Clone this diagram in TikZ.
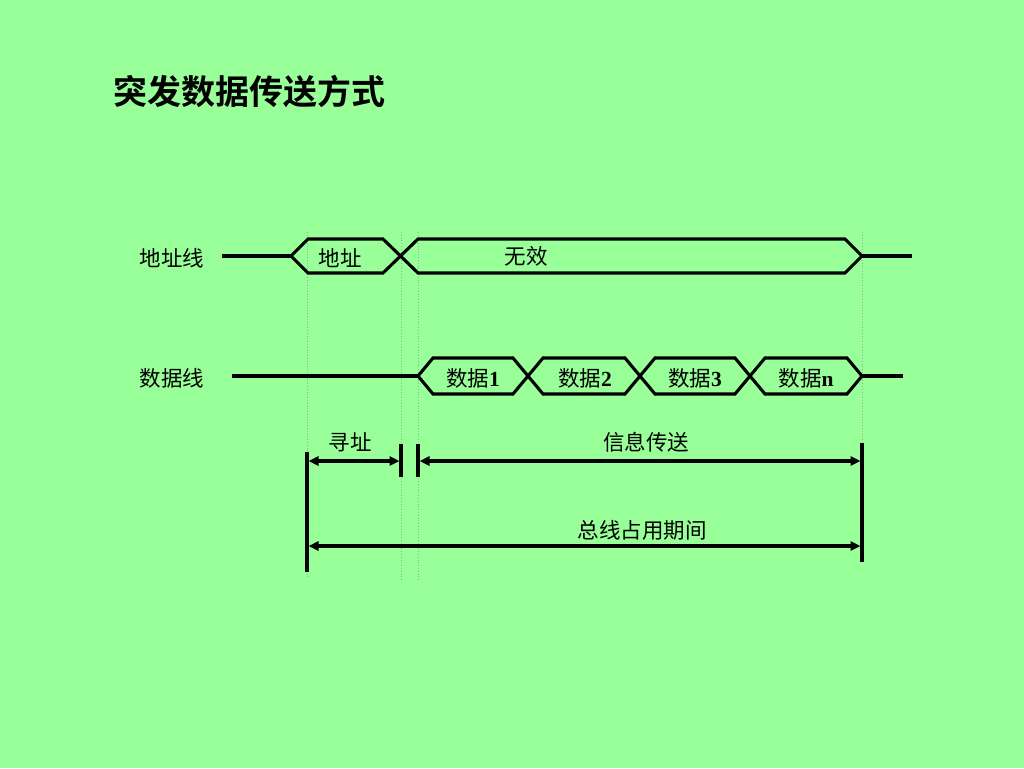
\documentclass[tikz,border=0pt]{standalone}
\usepackage{fontspec}
\setmainfont{Liberation Serif}
\newfontfamily\cjk{Noto Sans CJK SC}
\newfontfamily\cjkb{Noto Sans CJK SC Bold}
\usetikzlibrary{arrows.meta}
\definecolor{bg}{RGB}{153,255,153}
\definecolor{guide}{RGB}{140,180,140}
\newcommand{\dg}[1]{{\rmfamily\bfseries #1}}
\tikzset{
  wave/.style={line width=3.1pt, line join=miter, black},
  guideline/.style={guide, line width=0.8pt, dotted},
  lbl/.style={font=\cjk\fontsize{21.5}{21.5}\selectfont, inner sep=0pt},
  dlbl/.style={font=\cjk\fontsize{21.5}{21.5}\selectfont, inner sep=0pt},
  dim/.style={line width=3.2pt, {Triangle[length=10pt,width=9pt]}-{Triangle[length=10pt,width=9pt]}},
  bar/.style={line width=3.2pt},
}
\begin{document}
\begin{tikzpicture}[x=1pt,y=-1pt]
\fill[bg] (0,0) rectangle (1024,768);
\useasboundingbox (0,0) rectangle (1024,768);

% title
\node[font=\cjkb\fontsize{34}{34}\selectfont, inner sep=0pt] (title) at (249,91) {突发数据传送方式};

% guide lines
\coordinate (g1t) at (307,232); \coordinate (g1b) at (307,578);
\coordinate (g2t) at (401,232); \coordinate (g2b) at (401,580);
\coordinate (g3t) at (418,232); \coordinate (g3b) at (418,580);
\coordinate (g4t) at (862,232); \coordinate (g4b) at (862,445);
\draw[guideline] (g1t) -- (g1b);
\draw[guideline] (g2t) -- (g2b);
\draw[guideline] (g3t) -- (g3b);
\draw[guideline] (g4t) -- (g4b);

% address line
\node[lbl] (alab) at (172,258) {地址线};
\coordinate (a0) at (222,256);
\coordinate (a1) at (291,256);
\coordinate (a2) at (862,256);
\coordinate (a3) at (912,256);
\draw[wave] (a0) -- (a1);
\draw[wave] (a1) -- (308,239) -- (383,239) -- (418,273) -- (845,273) -- (a2) -- (845,239) -- (418,239) -- (383,273) -- (308,273) -- cycle;
\draw[wave] (a2) -- (a3);
\node[lbl] (addr) at (340,258) {地址};
\node[lbl] (inv) at (526,256) {无效};

% data line
\node[lbl] (dlab) at (172,378) {数据线};
\coordinate (d0) at (232,376);
\coordinate (d1) at (418,376);
\coordinate (d5) at (862,376);
\coordinate (d6) at (903,376);
\draw[wave] (d0) -- (d1);
\draw[wave] (d1) -- (433,358) -- (513,358) -- (543,394) -- (625,394) -- (655,358) -- (735,358) -- (765,394) -- (847,394) -- (d5)
  -- (847,358) -- (765,358) -- (735,394) -- (655,394) -- (625,358) -- (543,358) -- (513,394) -- (433,394) -- cycle;
\draw[wave] (d5) -- (d6);
\node[dlbl] (dd1) at (473,378) {数据\dg{1}};
\node[dlbl] (dd2) at (585,378) {数据\dg{2}};
\node[dlbl] (dd3) at (695,378) {数据\dg{3}};
\node[dlbl] (ddn) at (806,378) {数据\dg{n}};

% dimension bars
\coordinate (b1t) at (307,452); \coordinate (b1b) at (307,572);
\coordinate (b2t) at (401,444); \coordinate (b2b) at (401,477);
\coordinate (b3t) at (418,444); \coordinate (b3b) at (418,477);
\coordinate (b4t) at (862,443); \coordinate (b4b) at (862,562);
\draw[bar] (b1t) -- (b1b);
\draw[bar] (b2t) -- (b2b);
\draw[bar] (b3t) -- (b3b);
\draw[bar] (b4t) -- (b4b);

\coordinate (s1) at (308.5,461); \coordinate (s2) at (399.5,461);
\coordinate (s3) at (419.5,461); \coordinate (s4) at (860.5,461);
\coordinate (s5) at (308.5,546); \coordinate (s6) at (860.5,546);
\draw[dim] (s1) -- (s2);
\draw[dim] (s3) -- (s4);
\draw[dim] (s5) -- (s6);
\node[lbl] (xz) at (350,442) {寻址};
\node[lbl] (xx) at (646,442) {信息传送};
\node[lbl] (zx) at (642,530) {总线占用期间};
\end{tikzpicture}
\end{document}
